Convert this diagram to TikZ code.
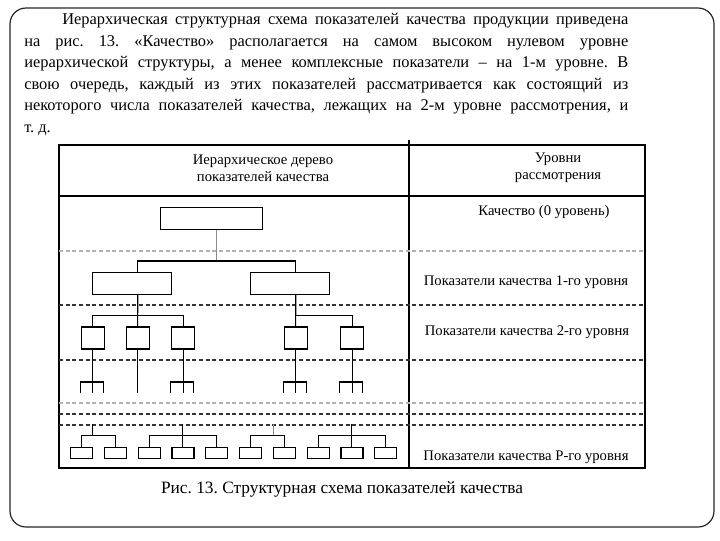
\documentclass[tikz,border=0pt]{standalone}
\usepackage{fontspec}
\setmainfont{Liberation Serif}
\usepackage{tikz}
\usetikzlibrary{positioning, calc}
\hyphenpenalty=10000
\exhyphenpenalty=10000
\frenchspacing
\tikzstyle{line} = [black, line width=0.8pt]
\tikzstyle{faintline} = [black!45, line width=0.8pt]
\tikzstyle{tableline} = [black, line width=1.1pt]
\tikzstyle{levelsep} = [dash pattern=on 3pt off 2pt, line width=0.8pt, black!80]
\tikzstyle{levelfaint} = [dash pattern=on 3pt off 2pt, line width=0.8pt, black!30]
\tikzstyle{qbox} = [rectangle, draw=black, line width=1pt, minimum width=76.5pt, minimum height=16.5pt, inner sep=0pt]
\tikzstyle{abox} = [rectangle, draw=black, line width=1pt, minimum width=59pt, minimum height=16.2pt, inner sep=0pt]
\tikzstyle{bbox} = [rectangle, draw=black, line width=1pt, minimum width=17.25pt, minimum height=16.5pt, inner sep=0pt]
\tikzstyle{pbox} = [rectangle, draw=black, line width=0.9pt, minimum width=16.5pt, minimum height=8.25pt, inner sep=0pt]
\tikzstyle{head} = [align=center, inner sep=0pt, font=\fontsize{11}{12.8}\selectfont]
\tikzstyle{level} = [inner sep=0pt, font=\fontsize{11}{12.8}\selectfont]

% fork under a 2nd level box
\newcommand{\subfork}[1]{%
  \draw[line] (#1.south) -- ++(0,43.7);
  \draw[line] (#1.south west) ++(0,43.7) |- ++(23,-11.4) -- ++(0,11.4);
}

\begin{document}
\begin{tikzpicture}[x=0.75pt, y=-0.75pt]
    \useasboundingbox (0,0) rectangle (720,540);

    % Frame
    \draw[black!85, line width=0.9pt, rounded corners=12pt] (10,8) rectangle (714,527);

    % Text above the figure
    \node[anchor=north west, text width=453pt, align=justify, inner sep=0pt,
          font=\fontsize{12.3}{16.2}\selectfont] (intro) at (24,13)
    {\hspace*{28.5pt}Иерархическая структурная схема показателей качества продукции приведена\linebreak
     на рис. 13. «Качество» располагается на самом высоком нулевом уровне\linebreak
     иерархической структуры, а менее комплексные показатели – на 1-м уровне. В\linebreak
     свою очередь, каждый из этих показателей рассматривается как состоящий из\linebreak
     некоторого числа показателей качества, лежащих на 2-м уровне рассмотрения, и\linebreak
     т. д.};

    % Table
    \draw[tableline] (59,145) rectangle (645,468);
    \draw[tableline] (59,196) -- (645,196);
    \draw[tableline] (409,140) -- (409,468);
    \node[head] (treehead) at (263,168) {Иерархическое дерево\\показателей качества};
    \node[head] (levelhead) at (558,168) {Уровни\\рассмотрения};

    % Level separators
    \draw[levelfaint] (59,251) -- (645,251);
    \draw[levelsep] (59,305) -- (645,305);
    \draw[levelsep] (59,360) -- (645,360);
    \draw[levelfaint] (59,403) -- (645,403);
    \draw[levelsep] (59,414) -- (645,414);
    \draw[levelsep] (59,425) -- (645,425);

    % Level names
    \node[level] (lzero) at (544,212) {Качество (0 уровень)};
    \node[level] (lone) at (526,282) {Показатели качества 1-го уровня};
    \node[level] (ltwo) at (527,332) {Показатели качества 2-го уровня};
    \node[level] (lp) at (526,457) {Показатели качества P-го уровня};

    % Level 0 and 1
    \node[qbox] (q) at (211.3,218.3) {};
    \node[abox] (a1) at (132,283.5) {};
    \node[abox, right=58.5pt of a1] (a2) {};
    \coordinate (j0) at (216.5,261);
    \draw[faintline] (q.south -| j0) -- (j0);
    \draw[line] ([xshift=4.3pt]a1.north) |- (j0) -| ([xshift=4.3pt]a2.north);

    % Level 2
    \node[bbox] (b2) at (137.7,338) {};
    \node[bbox, left=15.5pt of b2] (b1) {};
    \node[bbox, right=15.8pt of b2] (b3) {};
    \node[bbox] (c1) at (295.7,338) {};
    \node[bbox, right=24pt of c1] (c2) {};
    \draw[line] ([xshift=4.3pt]a1.south) -- (b2.north);
    \draw[line] (b1.north) -- ++(0,-10.6) -| (b3.north);
    \draw[line] ([xshift=4.3pt]a2.south) -- (c1.north);
    \draw[line] (c1.north) ++(0,-10.6) -| (c2.north);

    % Below level 2
    \subfork{b1}
    \draw[line] (b2.south) -- ++(0,43.7);
    \subfork{b3}
    \subfork{c1}
    \subfork{c2}

    % Level P
    \node[pbox] (p1) at (81.5,452.8) {};
    \node[pbox, right=7.95pt of p1] (p2) {};
    \node[pbox, right=7.95pt of p2] (p3) {};
    \node[pbox, right=7.95pt of p3] (p4) {};
    \node[pbox, right=7.95pt of p4] (p5) {};
    \node[pbox, right=7.95pt of p5] (p6) {};
    \node[pbox, right=7.95pt of p6] (p7) {};
    \node[pbox, right=7.95pt of p7] (p8) {};
    \node[pbox, right=7.95pt of p8] (p9) {};
    \node[pbox, right=7.95pt of p9] (p10) {};
    \draw[line] (p1.north) -- ++(0,-11.6) -| (p2.north);
    \draw[line] ([xshift=8.4pt]p1.north) ++(0,-11.6) -- ++(0,-10.7);
    \draw[line] (p3.north) -- ++(0,-11.6) -| (p5.north);
    \draw[line] (p4.north) -- ++(0,-22.3);
    \draw[line] (p6.north) -- ++(0,-11.6) -| (p7.north);
    \draw[faintline] ([xshift=-8.4pt]p7.north) ++(0,-11.6) -- ++(0,-10.7);
    \draw[line] (p8.north) -- ++(0,-11.6) -| (p10.north);
    \draw[line] (p9.north) -- ++(0,-22.3);

    % Caption
    \node[inner sep=0pt, font=\fontsize{13}{15}\selectfont] (caption) at (342,489) {Рис. 13. Структурная схема показателей качества};
\end{tikzpicture}
\end{document}
